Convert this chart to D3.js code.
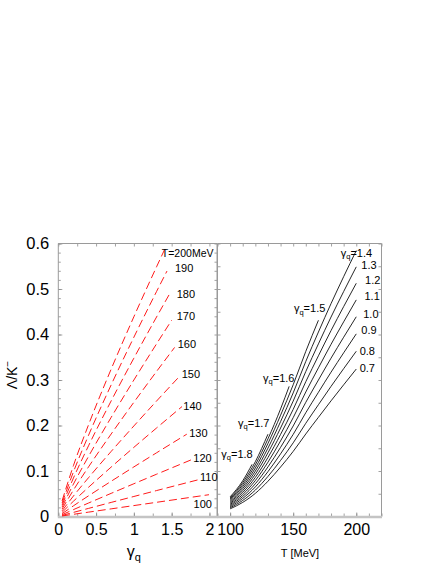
<!DOCTYPE html>
<html><head><meta charset="utf-8">
<script src="https://cdn.jsdelivr.net/npm/d3@7"></script>
<style>
html,body{margin:0;padding:0;background:#fff}
svg{display:block}
text{font-family:"Liberation Sans",Arial,Helvetica,sans-serif;fill:#000}
</style>
</head><body>
<svg id="c" width="436" height="564"></svg>
<script>
// ---------------- data ----------------
// Left panel: Lambda/K- vs gamma_q at fixed T (MeV), points [gamma_q, ratio]
const L_T100 = [[0.05,0.0012],[0.2,0.0048],[0.4,0.0096],[0.7,0.0168],[1.0,0.024],[1.3,0.0312],[1.994,0.0479]];
const L_T110 = [[0.05,0.0023],[0.2,0.0090],[0.4,0.0178],[0.7,0.0310],[1.0,0.044],[1.3,0.0570],[1.872,0.0816]];
const L_T120 = [[0.05,0.0039],[0.2,0.0151],[0.4,0.0296],[0.7,0.0509],[1.0,0.072],[1.3,0.0929],[1.777,0.1258]];
const L_T130 = [[0.05,0.0062],[0.2,0.0234],[0.4,0.0454],[0.7,0.0775],[1.0,0.109],[1.3,0.1400],[1.700,0.1809]];
const L_T140 = [[0.05,0.0091],[0.2,0.0335],[0.4,0.0642],[0.7,0.1087],[1.0,0.152],[1.3,0.1945],[1.637,0.2416]];
const L_T150 = [[0.05,0.0125],[0.2,0.0449],[0.4,0.0853],[0.7,0.1431],[1.0,0.199],[1.3,0.2537],[1.584,0.3045]];
const L_T160 = [[0.05,0.0164],[0.2,0.0580],[0.4,0.1090],[0.7,0.1814],[1.0,0.251],[1.3,0.3187],[1.539,0.3716]];
const L_T170 = [[0.05,0.0206],[0.2,0.0711],[0.4,0.1321],[0.7,0.2180],[1.0,0.300],[1.3,0.3794],[1.500,0.4313]];
const L_T180 = [[0.05,0.0249],[0.2,0.0844],[0.4,0.1554],[0.7,0.2542],[1.0,0.348],[1.3,0.4384],[1.467,0.4876]];
const L_T190 = [[0.05,0.0295],[0.2,0.0979],[0.4,0.1784],[0.7,0.2894],[1.0,0.394],[1.3,0.4944],[1.438,0.5394]];
const L_T200 = [[0.05,0.0344],[0.2,0.1118],[0.4,0.2015],[0.7,0.3241],[1.0,0.439],[1.3,0.5487],[1.412,0.5886]];
const LEFT_SERIES = [L_T100,L_T110,L_T120,L_T130,L_T140,L_T150,L_T160,L_T170,L_T180,L_T190,L_T200];
const LEFT_LABELS = ["100","110","120","130","140","150","160","170","180","190","T=200MeV"];
const LEFT_LABEL_AT = [[1.79,0.018],[1.875,0.077],[1.786,0.120],[1.733,0.174],[1.654,0.234],[1.633,0.304],[1.58,0.370],[1.567,0.432],[1.567,0.480],[1.544,0.537],[1.37,0.571]];

// Right panel: Lambda/K- vs T at fixed gamma_q, points [T, ratio]
const R_G07 = [[100,0.0168],[110,0.0310],[120,0.0509],[130,0.0775],[140,0.1087],[150,0.1431],[160,0.1814],[170,0.2180],[180,0.2542],[190,0.2894],[200,0.3241]];
const R_G08 = [[100,0.0192],[110,0.0353],[120,0.0580],[130,0.0881],[140,0.1232],[150,0.1619],[160,0.2049],[170,0.2457],[180,0.2860],[190,0.3249],[200,0.3632]];
const R_G09 = [[100,0.0216],[110,0.0397],[120,0.0650],[130,0.0986],[140,0.1377],[150,0.1805],[160,0.2281],[170,0.2730],[180,0.3172],[190,0.3597],[200,0.4014]];
const R_G10 = [[100,0.0240],[110,0.0440],[120,0.0720],[130,0.1090],[140,0.1520],[150,0.1990],[160,0.2510],[170,0.3000],[180,0.3480],[190,0.3940],[200,0.4390]];
const R_G11 = [[100,0.0264],[110,0.0483],[120,0.0790],[130,0.1194],[140,0.1662],[150,0.2173],[160,0.2737],[170,0.3267],[180,0.3784],[190,0.4278],[200,0.4761]];
const R_G12 = [[100,0.0288],[110,0.0527],[120,0.0859],[130,0.1297],[140,0.1804],[150,0.2355],[160,0.2963],[170,0.3532],[180,0.4086],[190,0.4613],[200,0.5126]];
const R_G13 = [[100,0.0312],[110,0.0570],[120,0.0929],[130,0.1400],[140,0.1945],[150,0.2537],[160,0.3187],[170,0.3794],[180,0.4384],[190,0.4944],[200,0.5487]];
const R_G14 = [[100,0.0336],[110,0.0613],[120,0.0998],[130,0.1503],[140,0.2086],[150,0.2717],[160,0.3409],[170,0.4054],[180,0.4679],[190,0.5271],[200,0.5844]];
const R_G15 = [[100,0.0360],[110,0.0656],[120,0.1067],[130,0.1606],[140,0.2225],[150,0.2896],[160,0.3630],[170,0.4313]];
const R_G16 = [[100,0.0384],[110,0.0699],[120,0.1136],[130,0.1707],[140,0.2364],[146.8,0.2860]];
const R_G17 = [[100,0.0408],[110,0.0742],[120,0.1205],[130,0.1809]];
const R_G18 = [[100,0.0432],[110,0.0785],[117.4,0.1146]];
const RIGHT_SERIES = [R_G07,R_G08,R_G09,R_G10,R_G11,R_G12,R_G13,R_G14,R_G15,R_G16,R_G17,R_G18];
const RIGHT_LABELS = ["0.7","0.8","0.9","1.0","1.1","1.2","1.3","=1.4","=1.5","=1.6","=1.7","=1.8"];
const RIGHT_LABEL_GAMMA = [false,false,false,false,false,false,false,true,true,true,true,true];
const RIGHT_LABEL_AT = [[202.7,0.317],[202.7,0.356],[204.0,0.401],[205.5,0.436],[206.5,0.476],[207.0,0.511],[204.0,0.544],[187.7,0.571],[150.6,0.449],[126.1,0.296],[106.3,0.197],[93.0,0.129]];

// ticks
const Y_TICKS = [0,0.1,0.2,0.3,0.4,0.5,0.6];
const Y_TICK_LABELS = ["0","0.1","0.2","0.3","0.4","0.5","0.6"];
const XL_TICKS = [0,0.5,1,1.5,2];
const XL_TICK_LABELS = ["0","0.5","1","1.5","2"];
const XR_TICKS = [100,150,200];
const XR_TICK_LABELS = ["100","150","200"];

// ---------------- drawing ----------------
const svg = d3.select("#c");
svg.append("rect").attr("width",436).attr("height",564).attr("fill","#fff");

const top_ = 243.5, bot = 516.5;
const xL = d3.scaleLinear([0,2.1],[58.3,217]);
const xR = d3.scaleLinear([90,220],[217.5,381.5]);
const y = d3.scaleLinear([0,0.6],[bot,top_]);

const tickCol = "#8a8a8a";
function styleAxis(g){
  g.select(".domain").remove();
  g.selectAll(".tick line").attr("stroke",tickCol).attr("stroke-width",0.8);
  g.selectAll("text").attr("font-size",16).attr("font-family",'"Liberation Sans",Arial,sans-serif').attr("fill","#000");
}
function ticksOnly(axis, tf, vals, size){
  const g = svg.append("g").attr("transform",tf)
    .call(axis.tickValues(vals).tickSize(-size).tickFormat(""));
  styleAxis(g);
  return g;
}

// ---- Left panel axes ----
const yMinor = d3.range(0,0.6001,0.02);
const xLMinor = d3.range(0,2.1001,0.25);
ticksOnly(d3.axisLeft(y), `translate(${xL.range()[0]},0)`, yMinor, 2.5);
ticksOnly(d3.axisRight(y), `translate(${xL.range()[1]},0)`, yMinor, 2.5);
ticksOnly(d3.axisBottom(xL), `translate(0,${bot})`, xLMinor, 3);
ticksOnly(d3.axisTop(xL), `translate(0,${top_})`, xLMinor, 3);

const gyl = svg.append("g").attr("transform",`translate(${xL.range()[0]},0)`)
  .call(d3.axisLeft(y).tickValues(Y_TICKS).tickSizeInner(-4).tickSizeOuter(0).tickPadding(9)
    .tickFormat((d,i)=>Y_TICK_LABELS[i]));
styleAxis(gyl);
gyl.selectAll("text").attr("font-size",16.5);

const gxl = svg.append("g").attr("transform",`translate(0,${bot})`)
  .call(d3.axisBottom(xL).tickValues(XL_TICKS).tickSizeInner(-4).tickSizeOuter(0).tickPadding(7)
    .tickFormat((d,i)=>XL_TICK_LABELS[i]));
styleAxis(gxl);

// ---- Right panel axes ----
const xRMinor = d3.range(90,220.001,10);
const yRMinor = d3.range(0,0.6001,0.05);
ticksOnly(d3.axisLeft(y), `translate(${xR.range()[0]},0)`, yRMinor, 3);
ticksOnly(d3.axisRight(y), `translate(${xR.range()[1]},0)`, yRMinor, 3);
ticksOnly(d3.axisBottom(xR), `translate(0,${bot})`, xRMinor, 3);
ticksOnly(d3.axisTop(xR), `translate(0,${top_})`, xRMinor, 3);
const gxr = svg.append("g").attr("transform",`translate(0,${bot})`)
  .call(d3.axisBottom(xR).tickValues(XR_TICKS).tickSizeInner(-4).tickSizeOuter(0).tickPadding(7)
    .tickFormat((d,i)=>XR_TICK_LABELS[i]));
styleAxis(gxr);

// ---- frames ----
const frame = svg.append("g").attr("fill","none");
[[xL.range()[0],xL.range()[1]],[xR.range()[0],xR.range()[1]]].forEach(([a,b])=>{
  frame.append("line").attr("x1",a).attr("x2",a).attr("y1",top_).attr("y2",bot).attr("stroke","#9a9a9a").attr("stroke-width",1);
  frame.append("line").attr("x1",b).attr("x2",b).attr("y1",top_).attr("y2",bot).attr("stroke","#9a9a9a").attr("stroke-width",1);
  frame.append("line").attr("x1",a).attr("x2",b).attr("y1",top_).attr("y2",top_).attr("stroke","#9a9a9a").attr("stroke-width",1);
  frame.append("line").attr("x1",a-0.5).attr("x2",b+0.5).attr("y1",bot+0.5).attr("y2",bot+0.5).attr("stroke","#c4c4c4").attr("stroke-width",2.5);
});

// ---- Left panel curves ----
const lineL = d3.line().x(d=>xL(d[0])).y(d=>y(d[1])).curve(d3.curveMonotoneX);
svg.append("g").selectAll("path").data(LEFT_SERIES).join("path")
  .attr("d",lineL).attr("fill","none").attr("stroke","#ff0000")
  .attr("stroke-width",0.9).attr("stroke-dasharray","8,4");

svg.append("g").selectAll("text").data(LEFT_LABELS).join("text")
  .attr("x",(d,i)=>xL(LEFT_LABEL_AT[i][0])).attr("y",(d,i)=>y(LEFT_LABEL_AT[i][1]))
  .attr("font-size",(d,i)=>i===LEFT_LABELS.length-1?10.5:11).text(d=>d);

// ---- Right panel curves ----
const lineR = d3.line().x(d=>xR(d[0])).y(d=>y(d[1])).curve(d3.curveMonotoneX);
svg.append("g").selectAll("path").data(RIGHT_SERIES).join("path")
  .attr("d",lineR).attr("fill","none").attr("stroke","#000").attr("stroke-width",0.85);

const rl = svg.append("g");
RIGHT_LABELS.forEach((lab,i)=>{
  const t = rl.append("text").attr("x",xR(RIGHT_LABEL_AT[i][0])).attr("y",y(RIGHT_LABEL_AT[i][1])).attr("font-size",11);
  if(RIGHT_LABEL_GAMMA[i]){
    t.append("tspan").text("γ");
    t.append("tspan").attr("font-size",7.5).attr("dy",2.5).text("q");
    t.append("tspan").attr("dy",-2.5).text(lab);
  } else t.text(lab);
});

// ---- axis titles ----
const yt = svg.append("text").attr("transform","translate(17,375) rotate(-90)")
  .attr("text-anchor","middle").attr("font-size",14);
yt.append("tspan").text("Λ/K");
yt.append("tspan").attr("font-size",10).attr("dy",-6).text("−");

const xt = svg.append("text").attr("x",xL(1)).attr("y",557).attr("text-anchor","middle").attr("font-size",16);
xt.append("tspan").text("γ");
xt.append("tspan").attr("font-size",11).attr("dy",4).text("q");

svg.append("text").attr("x",300).attr("y",557).attr("text-anchor","middle").attr("font-size",11).text("T [MeV]");
</script>
</body></html>
